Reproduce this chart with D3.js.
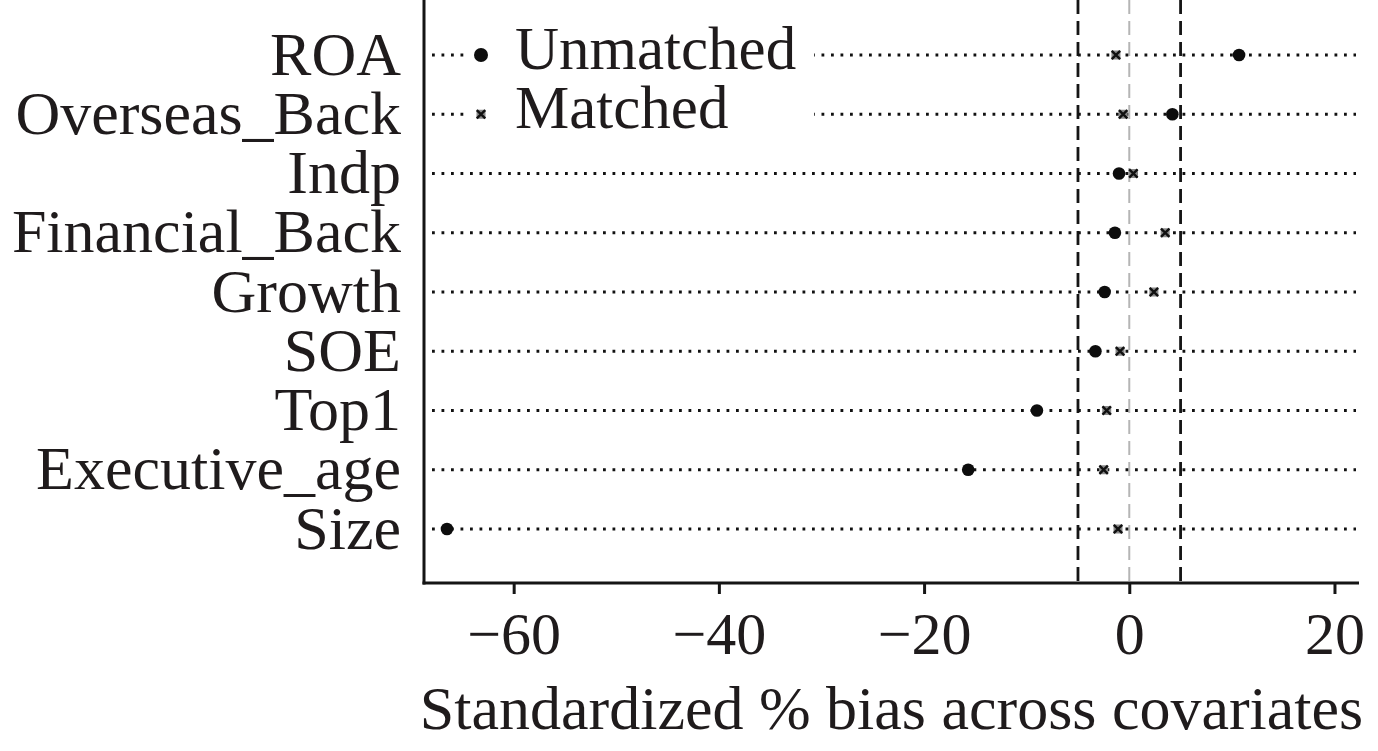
<!DOCTYPE html>
<html><head><meta charset="utf-8">
<script src="https://cdn.jsdelivr.net/npm/d3@7"></script>
<style>
html,body{margin:0;padding:0;background:#fff;}
svg{display:block;}
text{font-family:"Liberation Serif","Times New Roman",serif;fill:#1f1b1c;}
</style></head>
<body>
<svg id="chart" width="1378" height="751"></svg>
<script>
const categories = ["ROA","Overseas_Back","Indp","Financial_Back","Growth","SOE","Top1","Executive_age","Size"];
const unmatched = [10.7, 4.2, -1.0, -1.4, -2.4, -3.3, -9.0, -15.7, -66.5];
const matched   = [-1.3, -0.6, 0.4, 3.5, 2.4, -0.9, -2.2, -2.5, -1.1];
const xTicks = [-60, -40, -20, 0, 20];
const refLines = [-5, 0, 5];
const seriesNames = ["Unmatched", "Matched"];
const xTitle = "Standardized % bias across covariates";

(function () {
const svg = d3.select("#chart");
const pl = 424, pr = 1359, pt = 0, pb = 583;
const x = d3.scaleLinear().domain([-68.74, 22.39]).range([pl, pr]);
const y = d3.scalePoint().domain(categories).range([55, 529]);

// reference lines
svg.selectAll("line.ref").data(refLines).enter().append("line")
  .attr("x1", d => x(d)).attr("x2", d => x(d))
  .attr("y1", pt).attr("y2", pb)
  .attr("stroke", d => d === 0 ? "#b5b5b5" : "#151515")
  .attr("stroke-width", d => d === 0 ? 2 : 2.8)
  .attr("stroke-dasharray", "14,7");

// dotted row lines
svg.selectAll("line.row").data(categories).enter().append("line")
  .attr("x1", pl + 8).attr("x2", pr - 3)
  .attr("y1", d => y(d)).attr("y2", d => y(d))
  .attr("stroke", "#111").attr("stroke-width", 2.8)
  .attr("stroke-dasharray", "2.8,6.7");

// legend background box
svg.append("rect").attr("x", 466).attr("y", 22).attr("width", 348).attr("height", 122).attr("fill", "#fff");

function drawMatched(g, cx, cy) {
  g.append("rect").attr("x", cx - 4.5).attr("y", cy - 4.5).attr("width", 9).attr("height", 9).attr("fill", "#8a8a8a");
  g.append("path").attr("d", d3.symbol(d3.symbolX, 48)()).attr("transform", `translate(${cx},${cy})`)
    .attr("stroke", "#111").attr("stroke-width", 2.4).attr("fill", "none");
}

// unmatched markers
svg.selectAll("circle.un").data(categories).enter().append("circle")
  .attr("cx", (d, i) => x(unmatched[i])).attr("cy", d => y(d)).attr("r", 6.3)
  .attr("fill", "#0d0d0d");

// matched markers
categories.forEach((c, i) => drawMatched(svg.append("g"), x(matched[i]), y(c)));

// legend
svg.append("circle").attr("cx", 481).attr("cy", y(categories[0])).attr("r", 7).attr("fill", "#0d0d0d");
drawMatched(svg.append("g"), 481, y(categories[1]));
svg.append("text").attr("x", 515).attr("y", y(categories[0]) + 14).attr("font-size", 61).text(seriesNames[0]);
svg.append("text").attr("x", 515).attr("y", y(categories[1]) + 14).attr("font-size", 61).text(seriesNames[1]);

// y labels
svg.selectAll("text.ylab").data(categories).enter().append("text")
  .attr("x", 401).attr("y", d => y(d) + 19.5).attr("text-anchor", "end")
  .attr("font-size", 62).text(d => d);

// axes
const xAxis = d3.axisBottom(x).tickValues(xTicks).tickSize(11).tickFormat(d => d < 0 ? "\u2212" + Math.abs(d) : d);
const gx = svg.append("g").attr("transform", `translate(0,${pb})`).call(xAxis);
gx.select(".domain").remove();
gx.selectAll(".tick line").attr("stroke", "#151515").attr("stroke-width", 3);
gx.selectAll(".tick text").attr("font-size", 60).attr("font-family", "Liberation Serif, serif").attr("fill", "#1f1b1c").attr("dy", 0).attr("y", 71);
svg.append("line").attr("x1", pl - 1.5).attr("x2", pr).attr("y1", pb).attr("y2", pb).attr("stroke", "#151515").attr("stroke-width", 3);
svg.append("line").attr("x1", pl).attr("x2", pl).attr("y1", 0).attr("y2", pb + 1.5).attr("stroke", "#151515").attr("stroke-width", 3);

// x title
svg.append("text").attr("x", (pl + pr) / 2).attr("y", 729).attr("text-anchor", "middle").attr("font-size", 62).text(xTitle);
})();
</script>
</body></html>
